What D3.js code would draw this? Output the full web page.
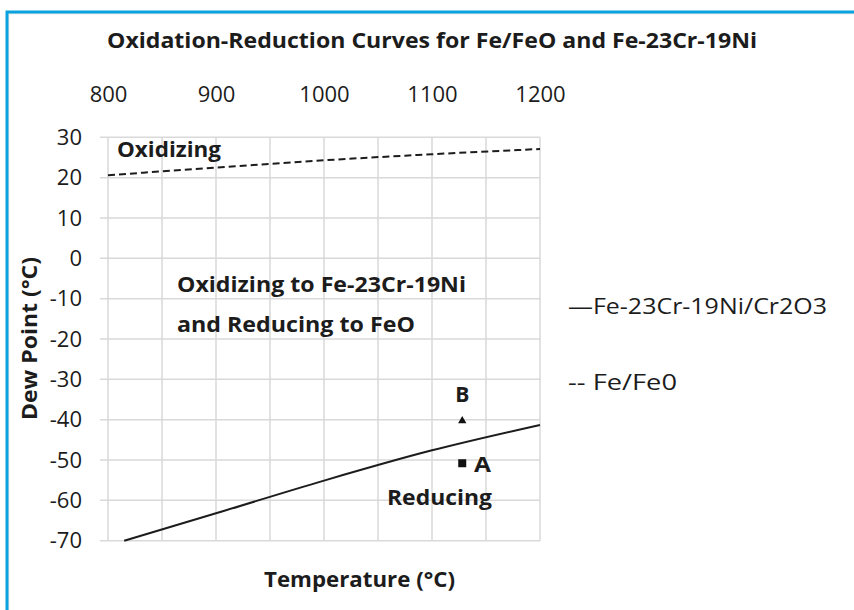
<!DOCTYPE html>
<html>
<head>
<meta charset="utf-8">
<script src="https://cdn.jsdelivr.net/npm/d3@7"></script>
<style>
  body { margin: 0; background: #fff; }
  svg text { font-family: "Open Sans", sans-serif; fill: #1c1c1c; }
</style>
</head>
<body>
<div id="chart"></div>
<script>
const W = 854;
const H = 610;

// values
const tempTicks = [800, 900, 1000, 1100, 1200];
const dewTicks = [30, 20, 10, 0, -10, -20, -30, -40, -50, -60, -70];

const feTemps = [800, 900, 1000, 1100, 1200];
const feDew = [20.6, 22.5, 24.3, 25.8, 27.1];

const alloyTemps = [815, 900, 1000, 1100, 1200];
const alloyDew = [-70, -63.2, -55.1, -47.6, -41.3];

const pointNames = ["A", "B"];
const pointTemps = [1128, 1128];
const pointDew = [-50.8, -40.3];

const legendLabels = ["\u2014Fe-23Cr-19Ni/Cr2O3", "-- Fe/Fe0"];

const svg = d3.select("#chart").append("svg")
  .attr("width", W)
  .attr("height", H);

// blue frame round the picture
svg.append("rect")
  .attr("x", 8.5).attr("y", 13.5)
  .attr("width", W + 20).attr("height", H + 20)
  .attr("fill", "none")
  .attr("stroke", "#e2e2e2")
  .attr("stroke-width", 1.5);
svg.append("rect")
  .attr("x", 7).attr("y", 12)
  .attr("width", W + 20).attr("height", H + 20)
  .attr("fill", "none")
  .attr("stroke", "#0aa3e0")
  .attr("stroke-width", 3);

const x = d3.scaleLinear().domain([800, 1200]).range([108, 540]);
const y = d3.scaleLinear().domain([-70, 30]).range([540.7, 137.3]);

// grid
const grid = svg.append("g").attr("stroke", "#d9d9d9").attr("stroke-width", 1.5);
grid.selectAll(".hg").data(dewTicks).enter().append("line")
  .attr("x1", 100).attr("x2", x(1200))
  .attr("y1", d => y(d)).attr("y2", d => y(d));
grid.selectAll(".vg").data(d3.range(800, 1201, 50)).enter().append("line")
  .attr("x1", d => x(d)).attr("x2", d => x(d))
  .attr("y1", y(30)).attr("y2", y(-70));

// top axis
const topAxis = svg.append("g")
  .attr("transform", "translate(0,108)")
  .call(d3.axisTop(x).tickValues(tempTicks).tickFormat(d => String(d))
    .tickSize(0).tickPadding(6));
topAxis.select(".domain").remove();
topAxis.selectAll("text")
  .style("font-family", "Open Sans, sans-serif")
  .style("font-size", "22px")
  .attr("fill", "#1c1c1c");

// left axis
const leftAxis = svg.append("g")
  .attr("transform", "translate(100,0)")
  .call(d3.axisLeft(y).tickValues(dewTicks).tickFormat(d => String(d))
    .tickSize(0).tickPadding(18));
leftAxis.select(".domain").remove();
leftAxis.selectAll("text")
  .style("font-family", "Open Sans, sans-serif")
  .style("font-size", "22px")
  .attr("fill", "#1c1c1c");

// curves
const line = d3.line().curve(d3.curveMonotoneX).x(d => x(d[0])).y(d => y(d[1]));
svg.append("path")
  .datum(feTemps.map((t, i) => [t, feDew[i]]))
  .attr("d", line)
  .attr("fill", "none")
  .attr("stroke", "#1c1c1c")
  .attr("stroke-width", 2)
  .attr("stroke-dasharray", "7,4");
svg.append("path")
  .datum(alloyTemps.map((t, i) => [t, alloyDew[i]]))
  .attr("d", line)
  .attr("fill", "none")
  .attr("stroke", "#1c1c1c")
  .attr("stroke-width", 2);

// points A (square) and B (triangle)
svg.append("rect")
  .attr("x", x(pointTemps[0]) - 4).attr("y", y(pointDew[0]) - 4)
  .attr("width", 8).attr("height", 8)
  .attr("fill", "#111");
svg.append("path")
  .attr("transform", `translate(${x(pointTemps[1])},${y(pointDew[1])})`)
  .attr("d", d3.symbol(d3.symbolTriangle, 30))
  .attr("fill", "#111");

function label(txt, px, py, size, weight, len, anchor) {
  const t = svg.append("text")
    .attr("x", px).attr("y", py)
    .attr("font-size", size)
    .attr("font-weight", weight)
    .attr("text-anchor", anchor || "start")
    .text(txt);
  if (len) t.attr("textLength", len).attr("lengthAdjust", "spacingAndGlyphs");
  return t;
}

label(pointNames[1], x(pointTemps[1]), 402, 21, 700, null, "middle");
label(pointNames[0], 474, 472, 22, 700, 17);

// titles
label("Oxidation-Reduction Curves for Fe/FeO and Fe-23Cr-19Ni", 107, 48, 21, 700, 650);
label("Temperature (\u00b0C)", 264, 587, 21, 700, 191);
svg.append("text")
  .attr("transform", "translate(37,420) rotate(-90)")
  .attr("font-size", 21)
  .attr("font-weight", 700)
  .attr("textLength", 163)
  .attr("lengthAdjust", "spacingAndGlyphs")
  .text("Dew Point (\u00b0C)");

// region notes
label("Oxidizing", 117, 157, 22, 700, 104);
label("Oxidizing to Fe-23Cr-19Ni", 177, 292, 22, 700, 289);
label("and Reducing to FeO", 177, 332, 22, 700, 238);
label("Reducing", 387, 505, 22, 700, 105);

// legend as text
label(legendLabels[0], 568, 314, 22, 400, 259);
label(legendLabels[1], 568, 390, 22, 400, 109);
</script>
</body>
</html>
